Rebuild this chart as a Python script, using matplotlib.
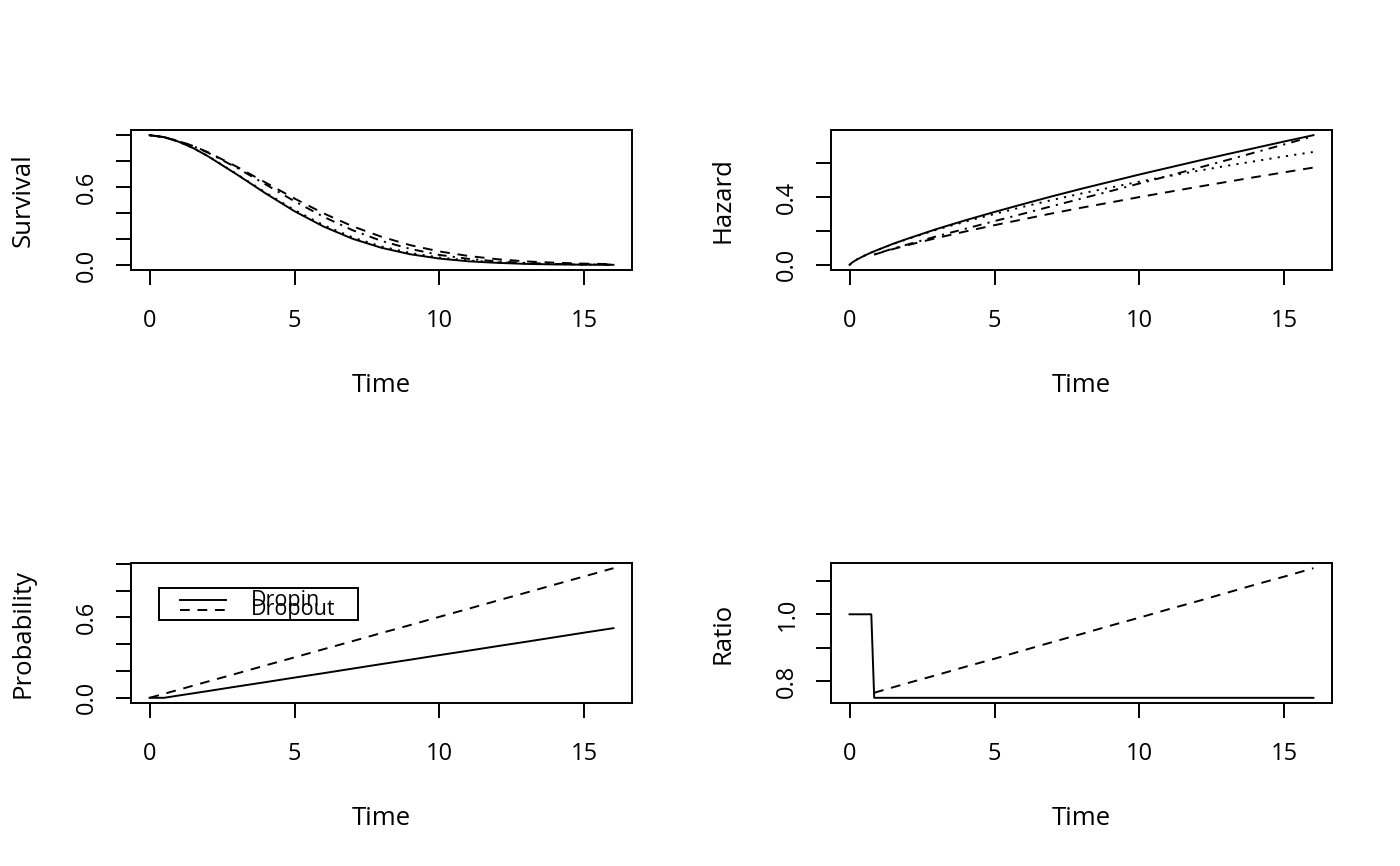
import matplotlib
matplotlib.use("Agg")
import matplotlib.pyplot as plt
from matplotlib.patches import Rectangle
from matplotlib.lines import Line2D

plt.rcParams['font.family'] = ['Open Sans', 'DejaVu Sans']
FS = 17
FS_LAB = 18.5
LW = 1.4

# ---------------- data ----------------
t_surv = [0, 0.5, 1, 1.5, 2, 3, 4, 5, 6, 7, 8, 9, 10, 11, 12, 13, 14, 15, 16]
surv_solid = [1, 0.985, 0.950, 0.901, 0.840, 0.699, 0.552, 0.414, 0.296, 0.202, 0.132,
              0.082, 0.049, 0.028, 0.016, 0.008, 0.004, 0.002, 0.001]
surv_dashed = [1, 0.985, 0.954, 0.917, 0.870, 0.758, 0.635, 0.512, 0.398, 0.298, 0.217,
               0.152, 0.104, 0.069, 0.044, 0.027, 0.017, 0.010, 0.006]
surv_dotted = [1, 0.985, 0.951, 0.901, 0.841, 0.702, 0.558, 0.423, 0.307, 0.213, 0.142,
               0.092, 0.057, 0.035, 0.020, 0.011, 0.006, 0.003, 0.002]
surv_dotdash = [1, 0.985, 0.954, 0.916, 0.867, 0.750, 0.621, 0.491, 0.371, 0.268, 0.185,
                0.123, 0.077, 0.047, 0.027, 0.015, 0.008, 0.004, 0.002]

t_haz = [0, 0.1, 0.25, 0.5, 0.75, 1, 1.5, 2, 3, 4, 5, 6, 7, 8, 9, 10, 11, 12, 13, 14, 15, 16]
haz_solid = [0, 0.015, 0.031, 0.053, 0.073, 0.090, 0.124, 0.154, 0.211, 0.263, 0.312, 0.359,
             0.405, 0.449, 0.491, 0.533, 0.573, 0.613, 0.652, 0.690, 0.728, 0.765]
haz_dotted = [0, 0.015, 0.031, 0.053, 0.072, 0.090, 0.123, 0.152, 0.207, 0.255, 0.300, 0.343,
              0.383, 0.421, 0.456, 0.491, 0.523, 0.554, 0.584, 0.612, 0.640, 0.666]
t_haz_trt = [0.85, 1, 1.5, 2, 3, 4, 5, 6, 7, 8, 9, 10, 11, 12, 13, 14, 15, 16]
haz_dashed = [0.060, 0.068, 0.093, 0.116, 0.158, 0.197, 0.234, 0.269, 0.304, 0.337, 0.368,
              0.400, 0.430, 0.460, 0.489, 0.518, 0.546, 0.574]
haz_dotdash = [0.061, 0.069, 0.096, 0.120, 0.168, 0.213, 0.258, 0.302, 0.347, 0.391, 0.435,
               0.480, 0.525, 0.571, 0.617, 0.664, 0.711, 0.759]

t_prob = [0, 0.5, 1, 2, 3, 4, 5, 6, 7, 8, 9, 10, 11, 12, 13, 14, 15, 16]
prob_dropin = [0, 0, 0.017, 0.050, 0.084, 0.117, 0.151, 0.184, 0.218, 0.252, 0.285, 0.319,
               0.352, 0.386, 0.419, 0.453, 0.487, 0.520]
prob_dropout = [0, 0.030, 0.060, 0.121, 0.181, 0.242, 0.302, 0.363, 0.423, 0.484, 0.544,
                0.605, 0.665, 0.726, 0.786, 0.847, 0.907, 0.968]
legend_labels = ["Dropin", "Dropout"]

t_ratio_solid = [0, 0.75, 0.85, 16]
ratio_solid = [1.0, 1.0, 0.75, 0.75]
t_ratio_dashed = [0.85, 1, 2, 3, 4, 5, 6, 7, 8, 9, 10, 11, 12, 13, 14, 15, 16]
ratio_dashed = [0.765, 0.769, 0.794, 0.818, 0.843, 0.867, 0.892, 0.917, 0.941, 0.966, 0.990,
                1.015, 1.039, 1.064, 1.089, 1.113, 1.138]

x_ticks = [0, 5, 10, 15]

# ---------------- styles ----------------
STY = {
    'solid': dict(linestyle='-'),
    'dashed': dict(linestyle=(0, (5, 4))),
    'dotted': dict(linestyle=(0, (1.1, 3.2))),
    'dotdash': dict(linestyle=(0, (1.1, 3.2, 4.6, 3.2))),
}

W, H = 1400, 866
fig = plt.figure(figsize=(W / 100, H / 100), dpi=100)


def make_ax(left_px, top_px):
    return fig.add_axes([left_px / W, 1 - (top_px + 140) / H, 501 / W, 140 / H])


def rlim(vals):
    lo, hi = min(vals), max(vals)
    pad = 0.04 * (hi - lo)
    return lo - pad, hi + pad


def style_ax(ax, xvals, yvals, yticks, ylabels, ylab):
    ax.set_xlim(*rlim(xvals))
    ax.set_ylim(*rlim(yvals))
    for s in ax.spines.values():
        s.set_linewidth(LW)
    ax.set_xticks(x_ticks)
    ax.set_xticklabels([str(v) for v in x_ticks])
    ax.set_yticks(yticks)
    ax.set_yticklabels(ylabels)
    ax.tick_params(axis='both', direction='out', length=10.8, width=LW,
                   labelsize=FS, colors='black')
    ax.tick_params(axis='x', pad=17.5)
    ax.tick_params(axis='y', pad=12.0)
    for lab in ax.get_yticklabels():
        lab.set_rotation(90)
        lab.set_va('center')
    ax.text(0.5, -122 / 140, 'Time', transform=ax.transAxes, ha='center',
            va='baseline', fontsize=FS_LAB)
    ax.text(-101 / 501, 0.5, ylab, transform=ax.transAxes, ha='center',
            va='baseline', rotation=90, rotation_mode='anchor', fontsize=FS_LAB)


def line(ax, x, y, kind):
    ax.plot(x, y, color='black', linewidth=LW, **STY[kind])


# Survival
ax1 = make_ax(131, 130)
line(ax1, t_surv, surv_solid, 'solid')
line(ax1, t_surv, surv_dashed, 'dashed')
line(ax1, t_surv, surv_dotted, 'dotted')
line(ax1, t_surv, surv_dotdash, 'dotdash')
style_ax(ax1, t_surv, surv_solid + surv_dashed + surv_dotted + surv_dotdash,
         [0, 0.2, 0.4, 0.6, 0.8, 1.0], ['0.0', '', '', '0.6', '', ''], 'Survival')

# Hazard
ax2 = make_ax(831, 130)
line(ax2, t_haz, haz_solid, 'solid')
line(ax2, t_haz_trt, haz_dashed, 'dashed')
line(ax2, t_haz, haz_dotted, 'dotted')
line(ax2, t_haz_trt, haz_dotdash, 'dotdash')
style_ax(ax2, t_haz, haz_solid + haz_dashed + haz_dotted + haz_dotdash,
         [0, 0.2, 0.4, 0.6], ['0.0', '', '0.4', ''], 'Hazard')

# Probability
ax3 = make_ax(131, 563)
line(ax3, t_prob, prob_dropin, 'solid')
line(ax3, t_prob, prob_dropout, 'dashed')
style_ax(ax3, t_prob, prob_dropin + prob_dropout,
         [0, 0.2, 0.4, 0.6, 0.8, 1.0], ['0.0', '', '', '0.6', '', ''], 'Probability')
# legend (R-style, entries overlapping)
ax3.add_patch(Rectangle((28 / 501, 83 / 140), 199 / 501, 32 / 140, transform=ax3.transAxes,
                        fill=False, edgecolor='black', linewidth=LW, clip_on=False))
for yy, kind in [(103 / 140, 'solid'), (93 / 140, 'dashed')]:
    ax3.add_line(Line2D([49 / 501, 95 / 501], [yy, yy], transform=ax3.transAxes,
                        color='black', linewidth=LW, **STY[kind]))
for yy, lab in [(102.5 / 140, legend_labels[0]), (93.5 / 140, legend_labels[1])]:
    ax3.text(120 / 501, yy, lab, transform=ax3.transAxes, ha='left', va='center',
             fontsize=15.5)

# Ratio
ax4 = make_ax(831, 563)
line(ax4, t_ratio_solid, ratio_solid, 'solid')
line(ax4, t_ratio_dashed, ratio_dashed, 'dashed')
style_ax(ax4, t_ratio_solid, ratio_solid + ratio_dashed,
         [0.8, 0.9, 1.0, 1.1], ['0.8', '', '1.0', ''], 'Ratio')

fig.savefig('out.png', dpi=100)
